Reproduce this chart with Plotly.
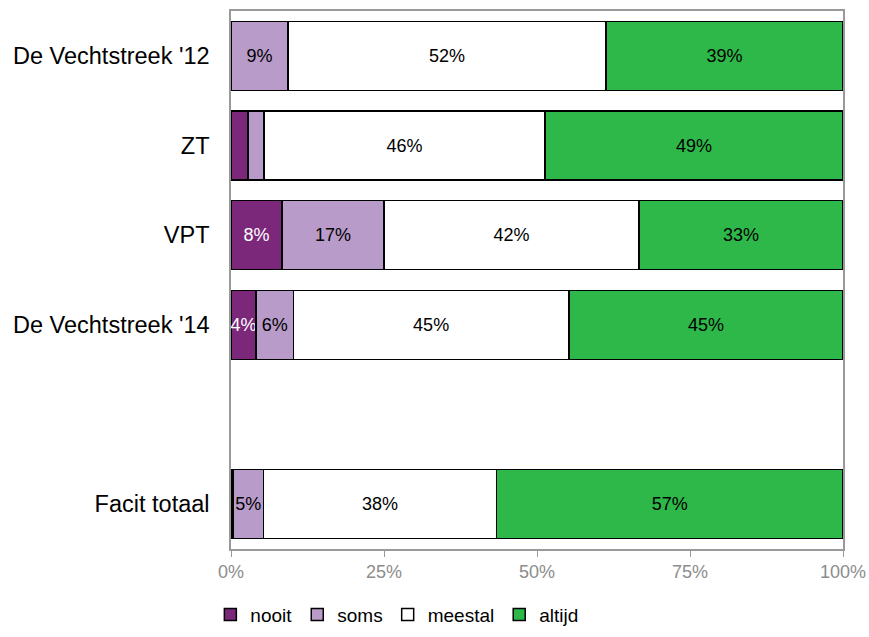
import plotly.graph_objects as go

# Survey rows, top to bottom; the empty entry leaves a blank row before the total
categories = ["De Vechtstreek '12", "ZT", "VPT", "De Vechtstreek '14", "", "Facit totaal"]

nooit = [0.0, 2.8, 8.3, 4.1, None, 0.3]
soms = [9.3, 2.6, 16.7, 6.1, None, 5.0]
meestal = [52.0, 45.9, 41.7, 45.0, None, 38.1]
altijd = [38.7, 48.7, 33.3, 44.8, None, 56.6]

x_ticks = [0, 25, 50, 75, 100]

series = [
    ("nooit", nooit, "#7B287B", "white"),
    ("soms", soms, "#B89BC8", "black"),
    ("meestal", meestal, "#FFFFFF", "black"),
    ("altijd", altijd, "#2EB84A", "black"),
]

rows = list(range(len(categories)))

fig = go.Figure()
for name, vals, color, txtcolor in series:
    labels = ["" if (v is None or v < 3.5) else f"{v:.0f}%" for v in vals]
    fig.add_trace(go.Bar(
        name=name,
        y=rows,
        x=vals,
        orientation="h",
        width=0.77,
        marker=dict(color=color, line=dict(color="black", width=1.5)),
        text=labels,
        textposition="inside",
        insidetextanchor="middle",
        textangle=0,
        textfont=dict(color=txtcolor, size=18, family="Liberation Sans, Arial"),
        hoverinfo="skip",
    ))

fig.update_layout(
    barmode="stack",
    width=869,
    height=637,
    margin=dict(l=231, r=26, t=11, b=88),
    paper_bgcolor="white",
    plot_bgcolor="white",
    font=dict(family="Liberation Sans, Arial", size=18, color="black"),
    uniformtext=dict(mode="show", minsize=18),
    legend=dict(
        orientation="h",
        xref="paper",
        x=0.271,
        xanchor="center",
        yref="container",
        y=0.035,
        yanchor="middle",
        font=dict(size=19, color="black"),
        itemwidth=30,
        traceorder="normal",
    ),
    xaxis=dict(
        range=[0, 100],
        tickvals=x_ticks,
        ticktext=[f"{t}%" for t in x_ticks],
        ticks="outside",
        ticklen=6,
        tickcolor="#999999",
        tickfont=dict(color="#8C8C8C", size=18),
        showline=True,
        linecolor="#999999",
        linewidth=1.5,
        mirror=True,
        showgrid=False,
        zeroline=False,
        automargin=False,
        fixedrange=True,
    ),
    yaxis=dict(
        range=[len(categories) - 0.5, -0.5],
        tickvals=rows,
        ticktext=categories,
        ticks="",
        ticklabelstandoff=15,
        tickfont=dict(color="black", size=23.5),
        showline=True,
        linecolor="#999999",
        linewidth=1.5,
        mirror=True,
        showgrid=False,
        zeroline=False,
        automargin=False,
        fixedrange=True,
    ),
)

fig.write_html("out.html")
